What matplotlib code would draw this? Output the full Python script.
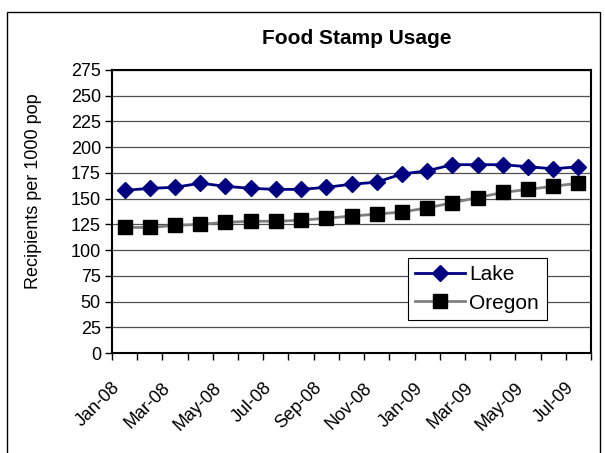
import matplotlib
matplotlib.use("Agg")
import matplotlib.pyplot as plt
from matplotlib.patches import Rectangle
from matplotlib.transforms import ScaledTranslation

plt.rcParams['font.family'] = ['Liberation Sans', 'DejaVu Sans']

months = ["Jan-08", "Feb-08", "Mar-08", "Apr-08", "May-08", "Jun-08", "Jul-08",
          "Aug-08", "Sep-08", "Oct-08", "Nov-08", "Dec-08", "Jan-09", "Feb-09",
          "Mar-09", "Apr-09", "May-09", "Jun-09", "Jul-09"]
lake = [158, 160, 161, 165, 162, 160, 159, 159, 161, 164, 166, 174, 177, 183,
        183, 183, 181, 179, 181]
oregon = [122, 122, 124, 125, 127, 128, 128, 129, 131, 133, 135, 137, 141, 146,
          151, 156, 159, 162, 165]
yticks = list(range(0, 276, 25))

W, H = 605, 453
fig = plt.figure(figsize=(W / 100, H / 100), dpi=100)
# outer chart border (bottom edge runs off the image)
fig.patches.append(Rectangle((7 / W, -10 / H), 593 / W, (453 - 12 + 10) / H,
                             transform=fig.transFigure, fill=False,
                             edgecolor='black', linewidth=1.0))

ax = fig.add_axes([112 / W, 1 - 353 / H, (591 - 112) / W, (353 - 70) / H])
x = list(range(len(months)))

ax.plot(x, oregon, color='#808080', linewidth=2, marker='s', markersize=9.5,
        markerfacecolor='black', markeredgecolor='black', label='Oregon', zorder=3)
ax.plot(x, lake, color='#000080', linewidth=2, marker='D', markersize=8,
        markerfacecolor='#000080', markeredgecolor='#000080', label='Lake', zorder=4)

ax.set_xlim(-0.5, len(months) - 0.5)
ax.set_ylim(0, 275)
ax.set_yticks(yticks)
ax.set_yticklabels([str(v) for v in yticks], fontsize=13)
ax.yaxis.grid(True, color='#505050', linewidth=0.9)
ax.set_axisbelow(True)

# category boundary ticks (major) and labels (minor) every other month
ax.set_xticks([i - 0.5 for i in range(len(months) + 1)])
ax.set_xticklabels([])
ax.set_xticks(x[::2], minor=True)
ax.set_xticklabels(months[::2], minor=True, rotation=45, ha='right', va='top',
                   rotation_mode='anchor', fontsize=13)
ax.tick_params(axis='x', which='minor', length=0, pad=19)
ax.tick_params(axis='x', which='major', length=5, direction='out', width=1)
ax.tick_params(axis='y', length=5, direction='out', width=1, pad=3)
off = ScaledTranslation(-13 / 100, 0, fig.dpi_scale_trans)
for lbl in ax.get_xticklabels(minor=True):
    lbl.set_transform(lbl.get_transform() + off)

for s in ax.spines.values():
    s.set_linewidth(1.5)
    s.set_color('black')

ax.set_ylabel("Recipients per 1000 pop", fontsize=13)
ax.yaxis.set_label_coords(-(112 - 42) / 479, (353 - 191) / 283)
fig.text(357 / W, 1 - 38 / H, "Food Stamp Usage", ha='center', va='center',
         fontsize=15, fontweight='bold')

handles, labels = ax.get_legend_handles_labels()
leg = ax.legend(handles[::-1], labels[::-1], loc='upper left',
                bbox_to_anchor=((408 - 112) / 479, (353 - 258) / 283),
                fontsize=15, frameon=True, fancybox=False, edgecolor='black',
                framealpha=1, borderpad=0.35, handlelength=2.4, handletextpad=0.2,
                labelspacing=0.45, borderaxespad=0)
leg.get_frame().set_linewidth(0.8)

fig.savefig("out.png", dpi=100)
